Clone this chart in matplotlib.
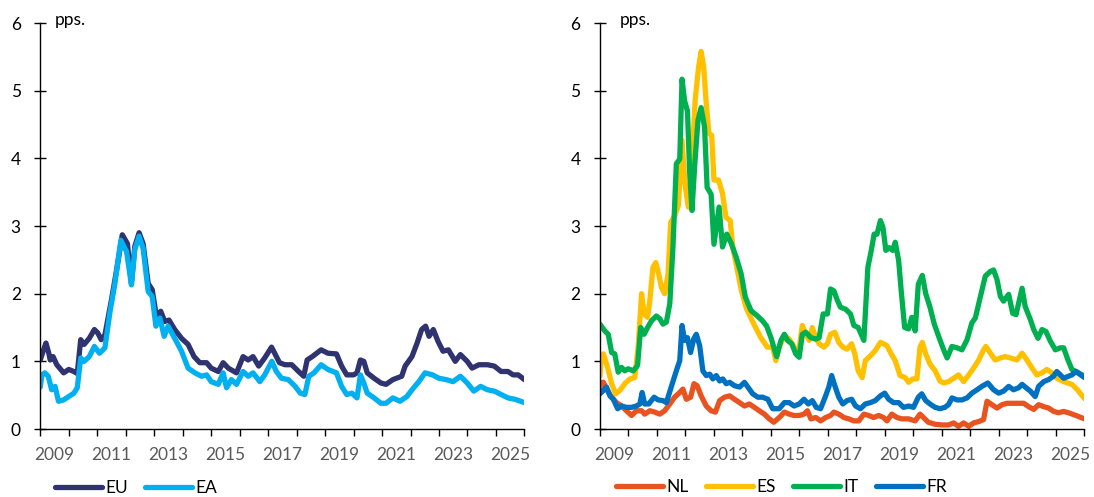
import matplotlib.pyplot as plt
from matplotlib.ticker import FixedLocator, FixedFormatter, NullFormatter

plt.rcParams['font.family'] = ['Lato', 'DejaVu Sans']
plt.rcParams['font.size'] = 12.5

# ---- left panel: EU / EA (pps.) ----
eu_t = [2009.0, 2009.1, 2009.2, 2009.3, 2009.35, 2009.45, 2009.58, 2009.82, 2010.0, 2010.18,
        2010.3, 2010.42, 2010.54, 2010.72, 2010.9, 2011.02, 2011.14, 2011.27, 2011.5, 2011.68,
        2011.88, 2012.06, 2012.2, 2012.32, 2012.47, 2012.61, 2012.79, 2012.93, 2013.08, 2013.23,
        2013.37, 2013.52, 2013.72, 2013.96, 2014.19, 2014.4, 2014.6, 2014.84, 2015.0, 2015.25,
        2015.42, 2015.6, 2015.89, 2016.12, 2016.3, 2016.47, 2016.67, 2016.88, 2017.12, 2017.23,
        2017.4, 2017.59, 2017.83, 2018.07, 2018.25, 2018.37, 2018.55, 2018.86, 2019.1, 2019.4,
        2019.58, 2019.76, 2020.0, 2020.12, 2020.24, 2020.36, 2020.48, 2020.72, 2020.96, 2021.14,
        2021.38, 2021.69, 2021.81, 2022.05, 2022.23, 2022.39, 2022.53, 2022.65, 2022.8, 2022.96,
        2023.14, 2023.33, 2023.57, 2023.75, 2023.99, 2024.16, 2024.4, 2024.7, 2024.94, 2025.18,
        2025.42, 2025.6, 2025.78, 2026.0]
eu_v = [1.02, 1.15, 1.27, 1.12, 1.02, 1.07, 0.95, 0.83, 0.88, 0.85,
        0.82, 1.32, 1.25, 1.34, 1.47, 1.42, 1.32, 1.39, 1.91, 2.35,
        2.87, 2.74, 2.15, 2.70, 2.90, 2.74, 2.15, 2.06, 1.66, 1.74,
        1.59, 1.61, 1.47, 1.34, 1.25, 1.07, 0.98, 0.98, 0.90, 0.85,
        0.98, 0.90, 0.83, 1.07, 1.02, 1.07, 0.93, 1.05, 1.21, 1.12,
        0.98, 0.95, 0.95, 0.85, 0.78, 1.02, 1.07, 1.17, 1.12, 1.11,
        0.93, 0.80, 0.80, 0.83, 1.02, 1.00, 0.83, 0.75, 0.68, 0.66,
        0.73, 0.78, 0.93, 1.07, 1.27, 1.47, 1.52, 1.37, 1.47, 1.30,
        1.15, 1.17, 1.00, 1.10, 1.00, 0.90, 0.95, 0.95, 0.93, 0.85,
        0.85, 0.80, 0.80, 0.73]

ea_t = [2009.0, 2009.06, 2009.16, 2009.28, 2009.4, 2009.52, 2009.64, 2009.82, 2010.0, 2010.18,
        2010.3, 2010.42, 2010.54, 2010.72, 2010.9, 2011.08, 2011.27, 2011.44, 2011.62, 2011.83,
        2012.03, 2012.2, 2012.32, 2012.47, 2012.61, 2012.79, 2012.93, 2013.06, 2013.2, 2013.35,
        2013.49, 2013.72, 2013.96, 2014.19, 2014.43, 2014.66, 2014.84, 2015.0, 2015.25, 2015.42,
        2015.54, 2015.71, 2015.89, 2016.12, 2016.3, 2016.47, 2016.71, 2016.88, 2017.13, 2017.29,
        2017.47, 2017.71, 2017.95, 2018.13, 2018.29, 2018.43, 2018.61, 2018.86, 2019.1, 2019.4,
        2019.58, 2019.76, 2019.94, 2020.12, 2020.24, 2020.36, 2020.48, 2020.72, 2020.96, 2021.14,
        2021.38, 2021.63, 2021.87, 2022.11, 2022.29, 2022.51, 2022.77, 2023.0, 2023.25, 2023.49,
        2023.75, 2023.99, 2024.22, 2024.46, 2024.7, 2024.94, 2025.18, 2025.42, 2025.66, 2026.0]
ea_v = [0.62, 0.80, 0.83, 0.78, 0.58, 0.63, 0.41, 0.43, 0.48, 0.53,
        0.61, 1.05, 1.00, 1.07, 1.22, 1.12, 1.20, 1.71, 2.15, 2.79,
        2.62, 2.13, 2.65, 2.85, 2.67, 2.03, 1.96, 1.52, 1.64, 1.37,
        1.52, 1.34, 1.15, 0.90, 0.83, 0.78, 0.80, 0.70, 0.66, 0.83,
        0.61, 0.73, 0.66, 0.85, 0.78, 0.83, 0.70, 0.80, 1.00, 0.85,
        0.75, 0.73, 0.63, 0.53, 0.51, 0.78, 0.83, 0.95, 0.88, 0.83,
        0.63, 0.51, 0.53, 0.46, 0.80, 0.68, 0.53, 0.46, 0.38, 0.38,
        0.46, 0.41, 0.48, 0.61, 0.70, 0.83, 0.80, 0.75, 0.73, 0.70,
        0.78, 0.68, 0.56, 0.63, 0.58, 0.56, 0.51, 0.46, 0.44, 0.39]

# ---- right panel: NL / ES / IT / FR (pps.) ----
nl_t = [2009.0, 2009.05, 2009.12, 2009.23, 2009.41, 2009.58, 2009.76, 2009.93, 2010.11, 2010.28,
        2010.46, 2010.57, 2010.75, 2010.92, 2011.1, 2011.27, 2011.45, 2011.62, 2011.8, 2011.91,
        2012.03, 2012.18, 2012.3, 2012.41, 2012.55, 2012.73, 2012.9, 2013.05, 2013.2, 2013.37,
        2013.55, 2013.72, 2013.9, 2014.07, 2014.24, 2014.42, 2014.59, 2014.77, 2014.94, 2015.1,
        2015.29, 2015.47, 2015.64, 2015.81, 2015.99, 2016.16, 2016.28, 2016.4, 2016.57, 2016.74,
        2016.92, 2017.09, 2017.21, 2017.38, 2017.56, 2017.73, 2017.91, 2018.08, 2018.26, 2018.43,
        2018.6, 2018.78, 2018.95, 2019.07, 2019.24, 2019.42, 2019.59, 2019.83, 2020.06, 2020.23,
        2020.35, 2020.52, 2020.76, 2021.0, 2021.23, 2021.41, 2021.58, 2021.76, 2021.94, 2022.11,
        2022.29, 2022.46, 2022.58, 2022.75, 2022.93, 2023.11, 2023.28, 2023.46, 2023.69, 2023.87,
        2024.04, 2024.22, 2024.39, 2024.57, 2024.74, 2024.92, 2025.09, 2025.27, 2025.44, 2025.7,
        2026.0]
nl_v = [0.62, 0.69, 0.69, 0.59, 0.47, 0.39, 0.34, 0.27, 0.20, 0.27,
        0.27, 0.22, 0.27, 0.25, 0.22, 0.27, 0.37, 0.47, 0.54, 0.59,
        0.44, 0.47, 0.67, 0.64, 0.49, 0.34, 0.27, 0.25, 0.42, 0.47,
        0.49, 0.44, 0.39, 0.34, 0.37, 0.32, 0.27, 0.22, 0.15, 0.10,
        0.17, 0.25, 0.22, 0.20, 0.20, 0.22, 0.27, 0.15, 0.17, 0.12,
        0.17, 0.20, 0.25, 0.22, 0.17, 0.15, 0.12, 0.12, 0.22, 0.20,
        0.17, 0.20, 0.17, 0.12, 0.22, 0.17, 0.15, 0.15, 0.12, 0.22,
        0.17, 0.10, 0.07, 0.06, 0.06, 0.09, 0.04, 0.09, 0.04, 0.09,
        0.11, 0.14, 0.41, 0.36, 0.31, 0.36, 0.38, 0.38, 0.38, 0.38,
        0.33, 0.29, 0.36, 0.33, 0.31, 0.26, 0.24, 0.26, 0.24, 0.20,
        0.15]

es_t = [2009.0, 2009.05, 2009.12, 2009.27, 2009.41, 2009.55, 2009.7, 2009.87, 2010.05, 2010.22,
        2010.34, 2010.46, 2010.55, 2010.67, 2010.75, 2010.86, 2010.96, 2011.06, 2011.16, 2011.27,
        2011.39, 2011.48, 2011.62, 2011.75, 2011.88, 2011.98, 2012.1, 2012.22, 2012.34, 2012.46,
        2012.55, 2012.64, 2012.72, 2012.82, 2012.92, 2013.0, 2013.16, 2013.3, 2013.42, 2013.57,
        2013.66, 2013.96, 2014.14, 2014.39, 2014.63, 2014.87, 2015.06, 2015.17, 2015.29, 2015.47,
        2015.64, 2015.81, 2015.97, 2016.1, 2016.22, 2016.34, 2016.45, 2016.57, 2016.69, 2016.86,
        2016.98, 2017.09, 2017.24, 2017.38, 2017.52, 2017.67, 2017.83, 2017.94, 2018.06, 2018.2,
        2018.31, 2018.49, 2018.66, 2018.84, 2018.95, 2019.07, 2019.22, 2019.36, 2019.53, 2019.71,
        2019.83, 2019.97, 2020.12, 2020.23, 2020.31, 2020.43, 2020.58, 2020.76, 2020.93, 2021.06,
        2021.23, 2021.41, 2021.58, 2021.76, 2021.94, 2022.11, 2022.29, 2022.46, 2022.54, 2022.7,
        2022.87, 2023.05, 2023.22, 2023.4, 2023.63, 2023.81, 2023.98, 2024.16, 2024.33, 2024.51,
        2024.68, 2024.86, 2025.03, 2025.27, 2025.56, 2025.75, 2026.0]
es_v = [0.78, 1.05, 1.11, 0.91, 0.67, 0.52, 0.57, 0.67, 0.74, 0.76,
        1.21, 2.00, 1.70, 1.65, 1.90, 2.39, 2.46, 2.29, 2.09, 2.00,
        2.29, 3.05, 3.15, 3.30, 4.27, 3.63, 3.28, 3.87, 4.86, 5.35,
        5.58, 5.35, 4.86, 4.37, 4.34, 3.68, 3.68, 3.48, 3.13, 3.08,
        2.69, 2.05, 1.78, 1.56, 1.36, 1.21, 1.21, 1.01, 1.21, 1.38,
        1.33, 1.21, 1.13, 1.53, 1.40, 1.31, 1.50, 1.35, 1.26, 1.21,
        1.26, 1.40, 1.43, 1.28, 1.21, 1.18, 1.26, 1.11, 0.86, 0.76,
        1.01, 1.08, 1.16, 1.28, 1.26, 1.23, 1.11, 1.01, 0.79, 0.76,
        0.69, 0.74, 0.74, 1.21, 1.28, 1.11, 0.96, 0.86, 0.71, 0.68,
        0.70, 0.75, 0.80, 0.70, 0.80, 0.90, 1.02, 1.17, 1.22, 1.12,
        1.02, 1.05, 1.07, 1.05, 1.02, 1.12, 1.02, 0.90, 0.80, 0.83,
        0.88, 0.83, 0.75, 0.70, 0.66, 0.58, 0.45]

it_t = [2009.0, 2009.17, 2009.29, 2009.41, 2009.52, 2009.64, 2009.76, 2009.87, 2009.99, 2010.17,
        2010.32, 2010.43, 2010.55, 2010.67, 2010.81, 2010.98, 2011.1, 2011.21, 2011.33, 2011.45,
        2011.56, 2011.68, 2011.8, 2011.88, 2011.97, 2012.07, 2012.15, 2012.23, 2012.32, 2012.44,
        2012.55, 2012.67, 2012.76, 2012.9, 2013.0, 2013.18, 2013.3, 2013.45, 2013.6, 2013.78,
        2013.95, 2014.1, 2014.3, 2014.5, 2014.7, 2014.85, 2015.0, 2015.2, 2015.35, 2015.47,
        2015.58, 2015.73, 2015.87, 2015.99, 2016.1, 2016.22, 2016.4, 2016.57, 2016.69, 2016.83,
        2016.98, 2017.09, 2017.21, 2017.33, 2017.44, 2017.62, 2017.79, 2017.91, 2018.06, 2018.26,
        2018.4, 2018.52, 2018.62, 2018.72, 2018.84, 2018.93, 2019.03, 2019.15, 2019.27, 2019.36,
        2019.48, 2019.57, 2019.69, 2019.83, 2019.94, 2020.06, 2020.17, 2020.31, 2020.43, 2020.58,
        2020.73, 2020.9, 2021.06, 2021.18, 2021.35, 2021.53, 2021.7, 2021.88, 2022.05, 2022.17,
        2022.35, 2022.52, 2022.7, 2022.81, 2022.93, 2023.05, 2023.16, 2023.34, 2023.48, 2023.6,
        2023.69, 2023.81, 2023.92, 2024.1, 2024.22, 2024.37, 2024.51, 2024.65, 2024.8, 2024.98,
        2025.15, 2025.27, 2025.42, 2025.56, 2025.75, 2026.0]
it_v = [1.55, 1.45, 1.40, 1.13, 1.11, 0.84, 0.91, 0.86, 0.89, 0.86,
        0.94, 1.50, 1.40, 1.50, 1.60, 1.67, 1.63, 1.55, 1.58, 1.85,
        2.68, 3.92, 3.99, 5.17, 4.85, 4.70, 3.77, 3.23, 3.87, 4.56,
        4.75, 4.46, 3.57, 3.47, 2.73, 3.28, 2.69, 2.88, 2.75, 2.54,
        2.30, 1.95, 1.75, 1.68, 1.60, 1.52, 1.35, 1.07, 1.31, 1.40,
        1.31, 1.26, 1.11, 1.06, 1.40, 1.43, 1.35, 1.33, 1.35, 1.70,
        1.70, 2.07, 2.04, 1.90, 1.80, 1.77, 1.70, 1.53, 1.50, 1.31,
        2.39, 2.64, 2.88, 2.88, 3.08, 2.98, 2.64, 2.68, 2.64, 2.76,
        2.49, 2.04, 1.50, 1.48, 1.65, 1.45, 2.14, 2.27, 2.00, 1.80,
        1.55, 1.35, 1.17, 1.05, 1.22, 1.20, 1.17, 1.32, 1.57, 1.64,
        1.96, 2.26, 2.33, 2.35, 2.21, 1.96, 1.89, 1.99, 1.71, 1.69,
        1.86, 2.08, 1.81, 1.62, 1.47, 1.34, 1.47, 1.44, 1.30, 1.17,
        1.20, 1.20, 1.02, 0.88, 0.84, 0.78]

fr_t = [2009.0, 2009.12, 2009.23, 2009.35, 2009.47, 2009.62, 2009.76, 2009.93, 2010.11, 2010.28,
        2010.4, 2010.48, 2010.57, 2010.71, 2010.9, 2011.04, 2011.21, 2011.33, 2011.5, 2011.68,
        2011.8, 2011.88, 2011.97, 2012.07, 2012.18, 2012.29, 2012.38, 2012.5, 2012.61, 2012.73,
        2012.85, 2012.96, 2013.08, 2013.2, 2013.31, 2013.43, 2013.55, 2013.72, 2013.9, 2014.07,
        2014.19, 2014.36, 2014.54, 2014.71, 2014.89, 2015.06, 2015.29, 2015.47, 2015.64, 2015.81,
        2015.99, 2016.16, 2016.31, 2016.45, 2016.59, 2016.74, 2016.9, 2017.03, 2017.13, 2017.24,
        2017.38, 2017.52, 2017.67, 2017.83, 2017.97, 2018.14, 2018.31, 2018.49, 2018.66, 2018.84,
        2018.99, 2019.13, 2019.3, 2019.48, 2019.65, 2019.83, 2020.0, 2020.17, 2020.29, 2020.43,
        2020.58, 2020.76, 2020.93, 2021.1, 2021.23, 2021.35, 2021.53, 2021.7, 2021.88, 2022.05,
        2022.23, 2022.4, 2022.61, 2022.81, 2022.99, 2023.16, 2023.34, 2023.51, 2023.69, 2023.81,
        2023.95, 2024.1, 2024.27, 2024.39, 2024.57, 2024.74, 2024.91, 2025.03, 2025.15, 2025.27,
        2025.44, 2025.56, 2025.7, 2026.0]
fr_v = [0.52, 0.57, 0.62, 0.49, 0.44, 0.30, 0.34, 0.32, 0.32, 0.34,
        0.37, 0.54, 0.37, 0.37, 0.47, 0.43, 0.42, 0.39, 0.62, 0.86,
        1.01, 1.53, 1.31, 1.35, 1.13, 1.33, 1.40, 1.23, 0.86, 0.79,
        0.81, 0.74, 0.79, 0.71, 0.74, 0.67, 0.69, 0.64, 0.62, 0.69,
        0.62, 0.52, 0.47, 0.47, 0.44, 0.30, 0.30, 0.39, 0.39, 0.34,
        0.37, 0.44, 0.37, 0.42, 0.32, 0.30, 0.47, 0.62, 0.79, 0.64,
        0.47, 0.37, 0.42, 0.44, 0.34, 0.30, 0.37, 0.39, 0.42, 0.49,
        0.53, 0.44, 0.39, 0.39, 0.32, 0.34, 0.32, 0.47, 0.52, 0.42,
        0.37, 0.32, 0.30, 0.32, 0.36, 0.46, 0.43, 0.43, 0.46, 0.53,
        0.58, 0.63, 0.68, 0.58, 0.53, 0.56, 0.63, 0.58, 0.61, 0.66,
        0.61, 0.56, 0.48, 0.63, 0.70, 0.73, 0.78, 0.85, 0.80, 0.75,
        0.78, 0.80, 0.85, 0.76]

years = list(range(2009, 2027))
year_labels = [str(y) if y % 2 == 1 else '' for y in range(2009, 2026)]
yticks = [0, 1, 2, 3, 4, 5, 6]

LW = 3.8

fig = plt.figure(figsize=(10.94, 4.97), dpi=100)
ax1 = fig.add_axes([0.0368, 0.1368, 0.4426, 0.8169])
ax2 = fig.add_axes([0.5484, 0.1368, 0.4429, 0.8169])

ax1.plot(eu_t, eu_v, color='#2F3370', lw=LW, solid_capstyle='round', solid_joinstyle='round', label='EU')
ax1.plot(ea_t, ea_v, color='#00B0F0', lw=LW, solid_capstyle='round', solid_joinstyle='round', label='EA')

ax2.plot(nl_t, nl_v, color='#E8531F', lw=LW, solid_capstyle='round', solid_joinstyle='round', label='NL')
ax2.plot(es_t, es_v, color='#FFC000', lw=LW, solid_capstyle='round', solid_joinstyle='round', label='ES')
ax2.plot(it_t, it_v, color='#00B050', lw=LW, solid_capstyle='round', solid_joinstyle='round', label='IT')
ax2.plot(fr_t, fr_v, color='#0070C0', lw=LW, solid_capstyle='round', solid_joinstyle='round', label='FR')

for ax in (ax1, ax2):
    ax.set_xlim(2009, 2026)
    ax.set_ylim(0, 6)
    ax.spines['top'].set_visible(False)
    ax.spines['right'].set_visible(False)
    ax.spines['left'].set_linewidth(1.0)
    ax.spines['bottom'].set_linewidth(1.0)
    ax.set_yticks(yticks)
    ax.xaxis.set_major_locator(FixedLocator(years))
    ax.xaxis.set_major_formatter(NullFormatter())
    ax.xaxis.set_minor_locator(FixedLocator([y + 0.5 for y in range(2009, 2026)]))
    ax.xaxis.set_minor_formatter(FixedFormatter(year_labels))
    ax.tick_params(axis='y', direction='inout', length=8, width=1, pad=10, labelsize=12.5, labelcolor='black')
    ax.tick_params(axis='x', which='major', direction='out', length=5, width=1)
    ax.tick_params(axis='x', which='minor', length=0, pad=13, labelsize=12.5, labelcolor='#595959')

ax1.annotate('pps.', xy=(0, 1), xycoords='axes fraction', xytext=(10.5, 2), textcoords='offset points',
             ha='left', va='center', fontsize=12.5)
ax2.annotate('pps.', xy=(0, 1), xycoords='axes fraction', xytext=(14.5, 2), textcoords='offset points',
             ha='left', va='center', fontsize=12.5)

ax1.legend(loc='center left', bbox_to_anchor=(55 / 1094, 1 - 488 / 497), bbox_transform=fig.transFigure,
           ncol=2, frameon=False, handlelength=2.7, handletextpad=0.2, columnspacing=1.0,
           borderpad=0, borderaxespad=0, fontsize=12.5)
ax2.legend(loc='center left', bbox_to_anchor=(616 / 1094, 1 - 487 / 497), bbox_transform=fig.transFigure,
           ncol=4, frameon=False, handlelength=2.7, handletextpad=0.2, columnspacing=1.0,
           borderpad=0, borderaxespad=0, fontsize=12.5)

fig.savefig('out.png', dpi=100)
